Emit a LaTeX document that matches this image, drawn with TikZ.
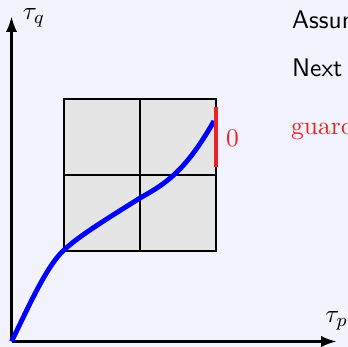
\documentclass[tikz,border=0pt]{standalone}
\usetikzlibrary{arrows.meta}
\definecolor{slidebg}{RGB}{242,242,252}
\definecolor{guardred}{RGB}{238,32,40}

\begin{document}
\begin{tikzpicture}[x=0.43pt, y=0.43pt, >={Latex[length=6.6pt, width=4.8pt]},
  font=\fontsize{10.95}{13.6}\selectfont,
  axis/.style={->, line width=0.9pt},
  cell/.style={fill=black!10, draw=black, line width=0.85pt},
  route/.style={blue, line width=2.1pt},
  guardline/.style={guardred, line width=1.9pt},
  lbl/.style={anchor=base west, inner sep=0pt},
  slide/.style={lbl, font=\fontsize{10.95}{13.6}\sffamily}]

% =================================================================================
% page: slide background, cut at the frame edge
% =================================================================================
\useasboundingbox (0,0) rectangle (348,347);
\fill[slidebg] (0,0) rectangle (348,347);
\clip (0,0) rectangle (348,347);

% =================================================================================
% the grid of cells
% =================================================================================
\draw[cell] (64,96) rectangle (216,248);
\draw[line width=0.85pt] (140,96) -- (140,248);
\draw[line width=0.85pt] (64,172) -- (216,172);

% axes
\coordinate (O)  at (11.5,5.5);
\coordinate (qx) at (11.5,330.5);
\coordinate (px) at (336.5,5.5);
\draw[axis] (O) -- (qx);
\draw[axis] (O) -- (px);
\node[lbl] (tq) at (22.5,327) {$\tau_q$};
\node[lbl] (tp) at (325,24) {$\tau_p$};

% the path through the cells
\coordinate (c1) at (64,97);
\coordinate (c2) at (140,149);
\coordinate (c3) at (214,226);
\draw[route] (O) .. controls (25.5,33.5) and (46,81) .. (c1)
                 .. controls (80,112) and (110,130) .. (c2)
                 .. controls (165,163) and (185,175) .. (c3);

% guard on the right edge
\coordinate (ga) at (216,180);
\coordinate (gb) at (216,240);
\draw[guardline] (ga) -- (gb);
\node[guardred] (zero) at (232.5,208.5) {$0$};

% =================================================================================
% slide text, cut by the frame
% =================================================================================
\node[slide] (assum) at (291.7,318.7) {Assum};
\node[slide] (next)  at (291.7,270.3) {Next};
\node[lbl, text=guardred] (guard) at (290.7,212) {guard};

\end{tikzpicture}
\end{document}
